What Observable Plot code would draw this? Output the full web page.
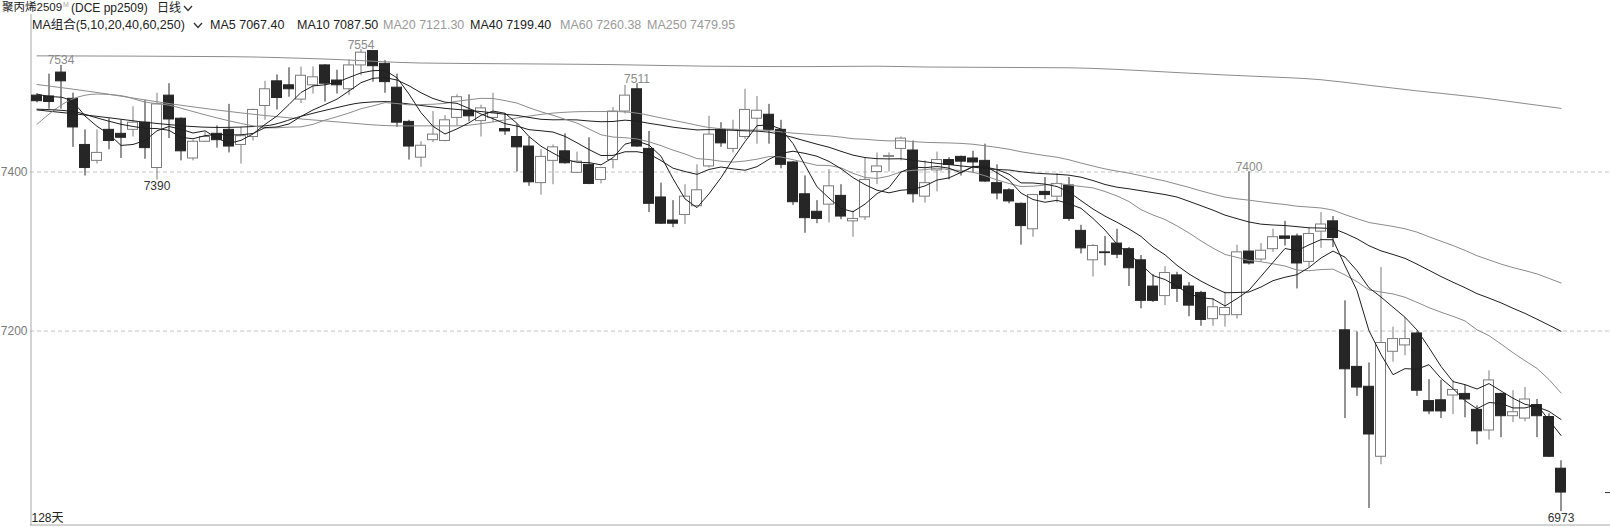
<!DOCTYPE html>
<html>
<head>
<meta charset="utf-8">
<script src="https://cdn.jsdelivr.net/npm/d3@7"></script>
<script src="https://cdn.jsdelivr.net/npm/@observablehq/plot@0.6"></script>
<style>
  body { margin: 0; background: #fff; }
  #wrap { position: relative; width: 1610px; height: 527px; overflow: hidden; background: #fff;
          font-family: "Liberation Sans", "Noto Sans CJK SC", sans-serif; }
  #wrap > svg { position: absolute; left: 0; top: 0; }
  .hd { position: absolute; white-space: nowrap; line-height: 1; }
  .hd svg { display: block; }
</style>
</head>
<body>
<div id="wrap"></div>
<script>
// ---------- data ----------
const opens = [7496,7495,7525,7492,7434,7414,7453,7448,7453,7462, 7405,7496,7467,7417,7438,7448,7453,7434,7444,7483,
  7514,7509,7491,7509,7534,7515,7504,7534,7552,7536, 7506,7463,7418,7440,7439,7468,7477,7464,7468,7454,
  7444,7432,7386,7414,7426,7399,7409,7390,7415,7476, 7504,7429,7368,7339,7346,7357,7407,7453,7429,7444,
  7467,7472,7453,7412,7372,7350,7359,7370,7338,7343, 7400,7419,7429,7427,7369,7402,7415,7419,7417,7414,
  7386,7377,7360,7328,7375,7369,7383,7326,7289,7299, 7310,7303,7289,7256,7244,7270,7256,7248,7215,7220,
  7220,7300,7290,7303,7319,7319,7287,7325,7338,7201, 7155,7130,7042,7174,7182,7197,7112,7113,7119,7121,
  7101,7075,7121,7093,7090,7107,7092,7027];
const highs = [7498,7523,7534,7499,7453,7453,7467,7465,7482,7490, 7499,7511,7468,7440,7450,7458,7485,7456,7479,7514,
  7522,7531,7532,7532,7535,7528,7541,7554,7552,7540, 7523,7465,7438,7476,7471,7497,7497,7484,7499,7473,
  7460,7444,7428,7434,7448,7425,7443,7406,7481,7509, 7511,7451,7386,7364,7384,7409,7470,7462,7465,7504,
  7495,7485,7465,7413,7395,7364,7403,7384,7351,7418, 7424,7424,7444,7439,7414,7425,7418,7420,7426,7435,
  7409,7379,7361,7372,7393,7398,7393,7333,7309,7319, 7328,7305,7295,7271,7281,7274,7261,7250,7241,7249,
  7308,7400,7310,7328,7338,7322,7330,7349,7344,7238, 7199,7160,7280,7205,7217,7199,7139,7138,7138,7132,
  7106,7150,7122,7125,7129,7114,7096,7037];
const lows = [7487,7479,7479,7431,7395,7410,7428,7417,7444,7416, 7390,7442,7414,7414,7437,7430,7424,7410,7439,7465,
  7478,7494,7486,7498,7488,7498,7496,7521,7513,7499, 7456,7415,7406,7437,7438,7458,7463,7444,7462,7446,
  7400,7382,7371,7384,7410,7398,7384,7385,7404,7473, 7431,7349,7334,7330,7334,7356,7405,7431,7424,7441,
  7435,7435,7404,7358,7323,7335,7336,7340,7318,7339, 7384,7400,7414,7361,7361,7375,7390,7395,7398,7387,
  7365,7360,7308,7318,7365,7361,7338,7297,7268,7282, 7291,7256,7228,7236,7232,7236,7218,7206,7206,7205,
  7215,7283,7287,7299,7307,7253,7280,7304,7305,7090, 7118,6977,7032,7161,7169,7118,7095,7090,7095,7091,
  7057,7063,7066,7085,7086,7066,7041,6973];
const closes = [7489,7488,7514,7456,7405,7424,7439,7443,7462,7430, 7485,7466,7426,7438,7444,7440,7432,7445,7478,7504,
  7493,7504,7521,7519,7511,7509,7534,7550,7533,7513, 7462,7432,7433,7447,7465,7494,7470,7480,7474,7451,
  7431,7387,7419,7431,7411,7413,7385,7405,7476,7496, 7432,7360,7335,7335,7369,7377,7447,7436,7453,7478,
  7477,7453,7409,7362,7342,7341,7382,7344,7341,7390, 7407,7420,7442,7372,7386,7415,7409,7413,7412,7388,
  7373,7363,7332,7371,7371,7385,7341,7304,7307,7298, 7296,7279,7238,7238,7273,7253,7232,7214,7230,7229,
  7299,7285,7301,7318,7316,7285,7322,7334,7317,7152, 7129,7070,7185,7190,7190,7125,7099,7099,7126,7114,
  7074,7138,7093,7098,7114,7093,7042,6997];

const ma5HeadIdx  = [0,1,2,3,4];
const ma5HeadVal  = [7498,7495,7494,7487,7470.4];
const ma10HeadIdx = [0,3,5,7,9];
const ma10HeadVal = [7479,7476,7468,7460,7455];
const ma20HeadIdx = [0,3,5,7,9,11,13,15,17,19];
const ma20HeadVal = [7460,7492,7498,7496,7488,7484,7476,7468,7461,7455.4];
const ma40HeadIdx = [0,5,10,15,19,22,25,27,29,31,34,37,39];
const ma40HeadVal = [7478,7470,7461,7456,7458,7470,7481,7487,7488.5,7485.5,7480,7476,7472.6];
const ma60HeadIdx = [0,5,11,19,25,30,35,38,40,43,46,48,50,52,54,56,59];
const ma60HeadVal = [7510,7500,7486,7471,7463,7458,7458,7463,7468,7474,7476,7476,7474,7468,7462,7456,7453];
const ma250Idx = [0,16,24,32,40,48,56,64,70,74,86,90,95,99,102,107,111,115,120,124,127];
const ma250Val = [7546,7545,7542,7537,7536,7535,7533,7532.5,7533,7532,7531,7529,7525,7522,7520,7516,7509,7502,7494,7486,7480];

const maNames = ["MA5","MA10","MA20","MA40","MA60","MA250"];
const maLast  = ["7067.40","7087.50","7121.30","7199.40","7260.38","7479.95"];
const maPeriods = [5,10,20,40,60,250];
const gridVals = [7400, 7200];
const highLabelIdx = [2, 27, 50, 101];
const lowLabelIdx = [10, 127];
const dayCountLabel = "128天";

// ---------- styles ----------
const upCol = "#7c7c7c", downCol = "#262626";
const blackMA = "#1e1e1e", greyMA = "#8c8c8c";
const maColors = [blackMA, blackMA, greyMA, blackMA, greyMA, greyMA];

const candles = closes.map((c, i) => ({i, o: opens[i], h: highs[i], l: lows[i], c}));
const up = candles.filter(d => d.c >= d.o);
const down = candles.filter(d => d.c < d.o);
const closeSeries = candles.map(d => ({i: d.i, c: d.c}));

const xMax = (1610 - 30) / 12 - 0.5;
const yMin = 6955.6, yMaxV = 7598;

function head(idxArr, valArr) { return idxArr.map((i, j) => ({i, v: valArr[j]})); }
function maTail(k, color) {
  return Plot.line(closeSeries, Plot.windowY({k, anchor: "end", reduce: "mean", strict: true},
    {x: "i", y: "c", stroke: color, strokeWidth: 1, dx: 0.5}));
}
function maHead(arr, color) {
  return Plot.line(arr, {x: "i", y: "v", stroke: color, strokeWidth: 1, curve: "monotone-x", dx: 0.5});
}

const chart = Plot.plot({
  width: 1610, height: 527,
  marginLeft: 30, marginRight: 0, marginTop: 14, marginBottom: 2,
  x: {type: "linear", domain: [-0.5, xMax], axis: null},
  y: {type: "linear", domain: [yMin, yMaxV], axis: null},
  style: {fontFamily: "'Liberation Sans','Noto Sans CJK SC',sans-serif", fontSize: "12px", background: "transparent", overflow: "visible"},
  marks: [
    Plot.ruleY(gridVals, {y: d => d, stroke: "#c4c4c4", strokeDasharray: "4,3"}),
    Plot.text(gridVals, {frameAnchor: "left", y: d => d, text: d => String(d), textAnchor: "end", dx: -3, fill: "#7a7a7a", fontSize: 12}),
    Plot.ruleX([-0.5], {x: d => d, stroke: "#a8a8a8", dx: 0.5}),
    Plot.ruleY([yMin], {y: d => d, stroke: "#a8a8a8", dy: -0.5}),
    // wicks
    Plot.ruleX(up, {x: "i", y1: "l", y2: "h", stroke: upCol, dx: 0.5}),
    Plot.ruleX(down, {x: "i", y1: "l", y2: "h", stroke: downCol, dx: 0.5}),
    // bodies
    Plot.rect(up, {x1: d => d.i - 0.5, x2: d => d.i + 0.5, y1: "o", y2: "c", insetLeft: 1.5, insetRight: 0.5, fill: "#fff", stroke: upCol}),
    Plot.rect(down, {x1: d => d.i - 0.5, x2: d => d.i + 0.5, y1: "o", y2: "c", insetLeft: 1.5, insetRight: 0.5, fill: downCol, stroke: downCol}),
    // moving averages
    maHead(head(ma250Idx, ma250Val), maColors[5]),
    maHead(head(ma60HeadIdx, ma60HeadVal), maColors[4]), maTail(maPeriods[4], maColors[4]),
    maHead(head(ma40HeadIdx, ma40HeadVal), maColors[3]), maTail(maPeriods[3], maColors[3]),
    maHead(head(ma20HeadIdx, ma20HeadVal), maColors[2]), maTail(maPeriods[2], maColors[2]),
    maHead(head(ma10HeadIdx, ma10HeadVal), maColors[1]), maTail(maPeriods[1], maColors[1]),
    maHead(head(ma5HeadIdx, ma5HeadVal), maColors[0]), maTail(maPeriods[0], maColors[0]),
    // extreme labels
    Plot.text(highLabelIdx, {x: d => d, y: d => highs[d], text: d => String(highs[d]), lineAnchor: "bottom", dy: -1, dx: 0.5, fill: "#8a8a8a", fontSize: 12}),
    Plot.text(lowLabelIdx, {x: d => d, y: d => lows[d], text: d => String(lows[d]), lineAnchor: "top", dy: 2, dx: 0.5, fill: "#333", fontSize: 12}),
    // last close marker at right edge
    Plot.ruleY([closes[closes.length - 1]], {y: d => d, x1: xMax - 0.42, x2: xMax, stroke: "#333"}),
    // day count
    Plot.text([dayCountLabel], {frameAnchor: "bottom-left", text: d => d, dx: 1, dy: -4, fill: "#222", fontSize: 12})
  ]
});

const wrap = document.getElementById("wrap");
wrap.appendChild(chart);

function addText(html, x, y, size, color) {
  const el = document.createElement("div");
  el.className = "hd";
  el.style.left = x + "px"; el.style.top = y + "px";
  el.style.fontSize = size + "px"; el.style.color = color;
  el.innerHTML = html;
  wrap.appendChild(el);
  return el;
}
function chevron(x, y) {
  const el = document.createElement("div");
  el.className = "hd";
  el.style.left = x + "px"; el.style.top = y + "px";
  el.innerHTML = '<svg width="10" height="7"><polyline points="1,1 5,5.5 9,1" fill="none" stroke="#333" stroke-width="1.3"/></svg>';
  wrap.appendChild(el);
}

// title row
addText("聚丙烯2509", 2, 2, 11.5, "#222");
addText("M", 63, 1, 7, "#aaa");
addText("(DCE pp2509)", 71, 2, 12, "#222");
addText("日线", 157, 2, 12, "#222");
chevron(183, 5);

// MA legend row
addText("MA组合(" + maPeriods.join(",") + ")", 32, 19, 12.5, "#222");
chevron(193, 22);
const maX = [210, 297, 383, 470, 560, 647];
maNames.forEach((n, j) => addText(n + " " + maLast[j], maX[j], 19, 12.5, maColors[j] === greyMA ? "#9a9a9a" : "#222"));
</script>
</body>
</html>
